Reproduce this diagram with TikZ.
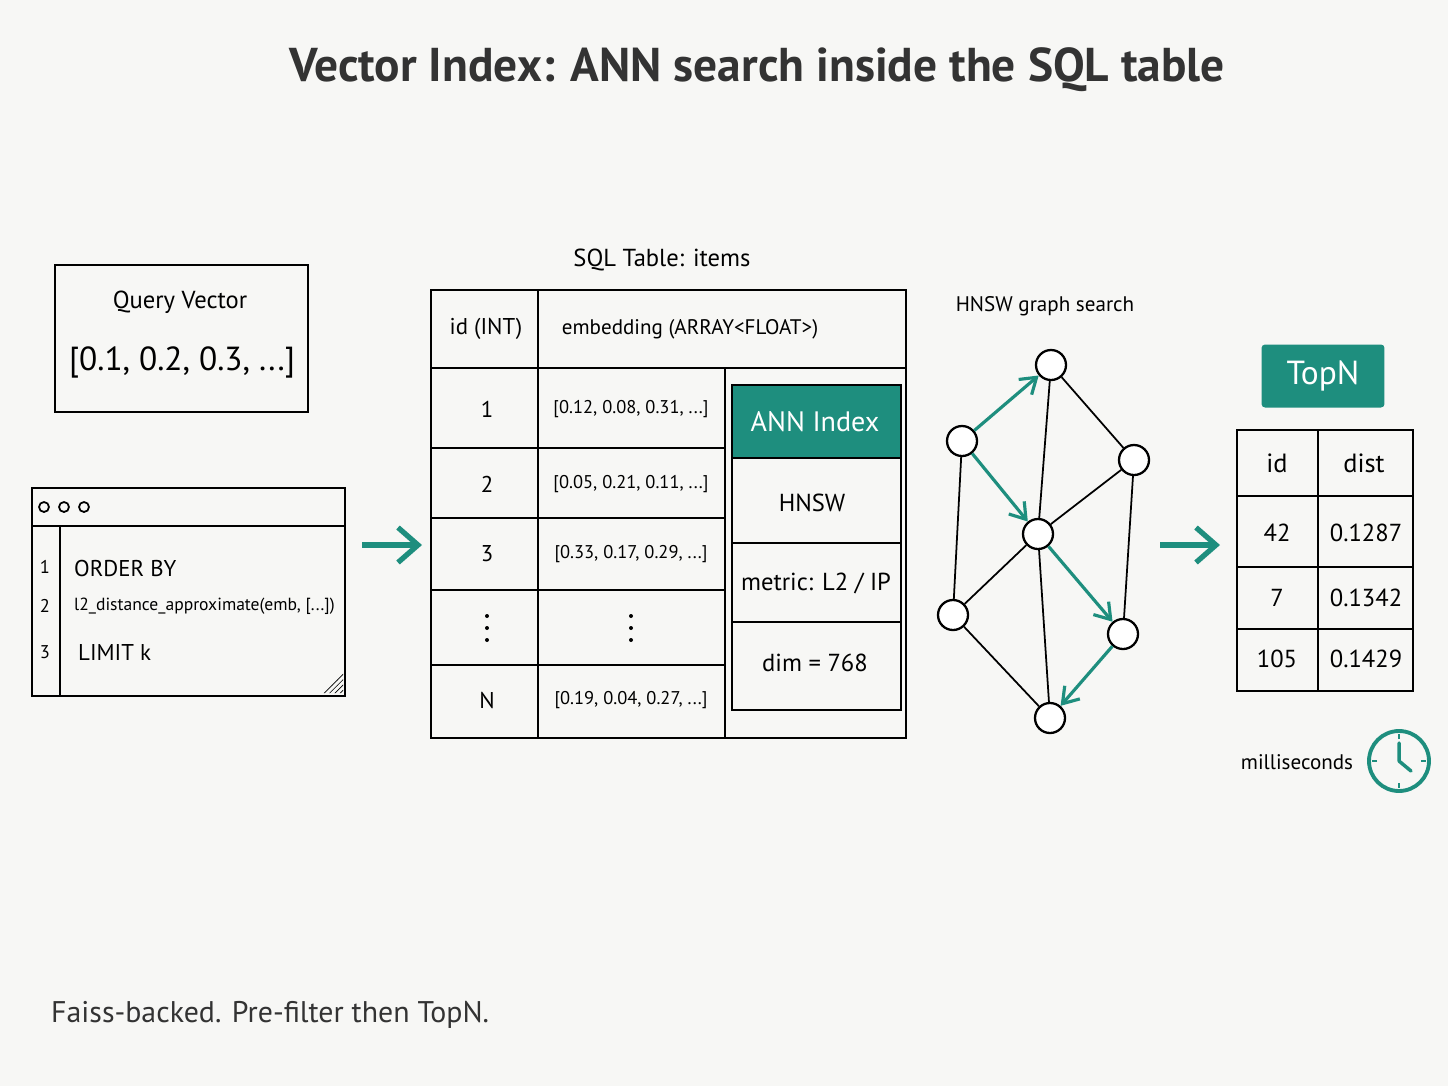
\documentclass[tikz,border=0pt]{standalone}
\usepackage{fontspec}
\setmainfont{PT Sans}
\usepackage{tikz}
\usetikzlibrary{positioning, arrows.meta, calc, patterns}
\definecolor{teal1}{HTML}{1E8E7E}
\definecolor{paper}{HTML}{F7F7F5}
\tikzset{
    box/.style={draw=black, line width=1.4pt},
    cell/.style={font=\fontsize{13}{15}\selectfont},
    small/.style={font=\fontsize{10.5}{12}\selectfont},
    gnode/.style={circle, draw=black, line width=1.3pt, fill=white, minimum size=0.6cm, inner sep=0pt},
    gedge/.style={black, line width=1pt},
    gstep/.style={teal1, line width=1.8pt, -{Straight Barb[length=3mm, width=4mm]}},
    flow/.style={teal1, line width=3pt, -{Straight Barb[length=4mm, width=7mm]}}
}
\begin{document}
\begin{tikzpicture}[x=0.02cm, y=-0.02cm]
    \fill[paper] (0,0) rectangle (1448,1086);
    \useasboundingbox (0,0) rectangle (1448,1086);

    % title
    \node[font=\fontsize{27}{32}\selectfont\bfseries, text=black!80] (title) at (757,70) {Vector Index: ANN search inside the SQL table};

    % query vector
    \draw[box] (55,265) rectangle (308,412);
    \node[font=\fontsize{14}{17}\selectfont] (qlabel) at (180,302) {Query Vector};
    \node[font=\fontsize{19}{23}\selectfont] (qvec) at (182,362) {[0.1, 0.2, 0.3, ...]};

    % code window
    \draw[box] (32,488) rectangle (345,696);
    \draw[line width=1.2pt] (32,526) -- (345,526);
    \draw[line width=1pt] (60,526) -- (60,696);
    \foreach \cx in {44,64,84}
        \draw[line width=1pt] (\cx,507) circle (5);
    \foreach \ln/\ly in {1/567, 2/606, 3/652}
        \node[small] (ln\ln) at (45,\ly) {\ln};
    \node[cell, anchor=west] (code1) at (68,568) {ORDER BY};
    \node[font=\fontsize{10}{12}\selectfont, anchor=west] (code2) at (68,606) {l2\_distance\_approximate(emb, [...])};
    \node[cell, anchor=west] (code3) at (72,652) {LIMIT k};
    \fill[pattern=north east lines] (322,693) -- (343,672) -- (343,693) -- cycle;

    \coordinate (in1) at (362,545);
    \coordinate (in2) at (422,545);
    \draw[flow] (in1) -- (in2);

    % sql table
    \node[font=\fontsize{14}{17}\selectfont] (tlabel) at (662,260) {SQL Table: items};
    \draw[box] (431,290) rectangle (906,738);
    \draw[line width=1.3pt] (431,368) -- (906,368);
    \draw[line width=1.2pt] (538,290) -- (538,738);
    \draw[line width=1.2pt] (725,368) -- (725,738);
    \foreach \ry in {448,518,590,665}
        \draw[line width=1.1pt] (431,\ry) -- (725,\ry);
    \node[cell] (hid) at (486,329) {id (INT)};
    \node[font=\fontsize{12}{14}\selectfont] (hemb) at (690,329) {embedding (ARRAY<FLOAT>)};
    \foreach \i/\vec/\ry in {1/{[0.12, 0.08, 0.31, ...]}/409, 2/{[0.05, 0.21, 0.11, ...]}/484, 3/{[0.33, 0.17, 0.29, ...]}/554, N/{[0.19, 0.04, 0.27, ...]}/700}{
        \node[cell] (rid\i) at (487,\ry) {\i};
        \node[small] (remb\i) at (631,\ry) {\vec};
    }
    % vertical ellipsis rows
    \foreach \cx in {487,631}
        \foreach \dy in {-12,0,12}
            \fill (\cx,628+\dy) circle (2);

    % ann index
    \fill[teal1] (732,385) rectangle (901,458);
    \draw[box] (732,385) rectangle (901,710);
    \draw[line width=1.2pt] (732,458) -- (901,458);
    \draw[line width=1.2pt] (732,543) -- (901,543);
    \draw[line width=1.2pt] (732,622) -- (901,622);
    \node[font=\fontsize{16}{19}\selectfont, text=white] (annhead) at (815,422) {ANN Index};
    \node[font=\fontsize{14}{17}\selectfont] (annalgo) at (812,503) {HNSW};
    \node[font=\fontsize{14}{17}\selectfont] (annmetric) at (816,583) {metric: L2 / IP};
    \node[font=\fontsize{14}{17}\selectfont] (anndim) at (815,663) {dim = 768};

    % hnsw graph
    \node[font=\fontsize{12}{14}\selectfont] (glabel) at (1045,306) {HNSW graph search};
    \node[gnode] (ga) at (1051,365) {};
    \node[gnode] (gb) at (962,441) {};
    \node[gnode] (gc) at (1134,460) {};
    \node[gnode] (gd) at (1038,534) {};
    \node[gnode] (ge) at (953,615) {};
    \node[gnode] (gf) at (1123,634) {};
    \node[gnode] (gg) at (1050,718) {};
    \foreach \u/\v in {ga/gd, ga/gc, gb/ge, gd/gc, gd/ge, gd/gg, ge/gg, gc/gf}
        \draw[gedge] (\u) -- (\v);
    \foreach \u/\v in {gb/ga, gb/gd, gd/gf, gf/gg}
        \draw[gstep] (\u) -- (\v);

    \coordinate (out1) at (1160,545);
    \coordinate (out2) at (1220,545);
    \draw[flow] (out1) -- (out2);

    % result
    \node[fill=teal1, rounded corners=2pt, minimum width=2.46cm, minimum height=1.26cm, text=white, font=\fontsize{19}{23}\selectfont] (topn) at (1323,376) {TopN};
    \draw[box] (1237,430) rectangle (1413,691);
    \draw[line width=1.2pt] (1318,430) -- (1318,691);
    \foreach \ry in {496,567,629}
        \draw[line width=1.2pt] (1237,\ry) -- (1413,\ry);
    \node[font=\fontsize{15}{18}\selectfont] (rhid) at (1277,463) {id};
    \node[font=\fontsize{15}{18}\selectfont] (rhdist) at (1364,463) {dist};
    \foreach \k/\rid/\rdist/\ry in {1/42/0.1287/533, 2/7/0.1342/598, 3/105/0.1429/659}{
        \node[font=\fontsize{14}{17}\selectfont] (res\k id) at (1277,\ry) {\rid};
        \node[font=\fontsize{14}{17}\selectfont] (res\k dist) at (1366,\ry) {\rdist};
    }

    % timing
    \node[font=\fontsize{12}{14}\selectfont] (ms) at (1297,762) {milliseconds};
    \node[circle, draw=teal1, line width=2.2pt, minimum size=1.2cm] (clock) at (1399,761) {};
    \draw[teal1, line width=2pt, line cap=round] (clock.center) -- ++(0,-18) (clock.center) -- ++(12,10);
    \foreach \a in {0,90,180,270}
        \draw[teal1, line width=1.5pt] (clock.center) ++(\a:22) -- ++(\a:5);

    % footer
    \node[font=\fontsize{17}{20}\selectfont, text=black!80, anchor=west] (footer) at (45,1015) {Faiss-backed. Pre-filter then TopN.};
\end{tikzpicture}
\end{document}
